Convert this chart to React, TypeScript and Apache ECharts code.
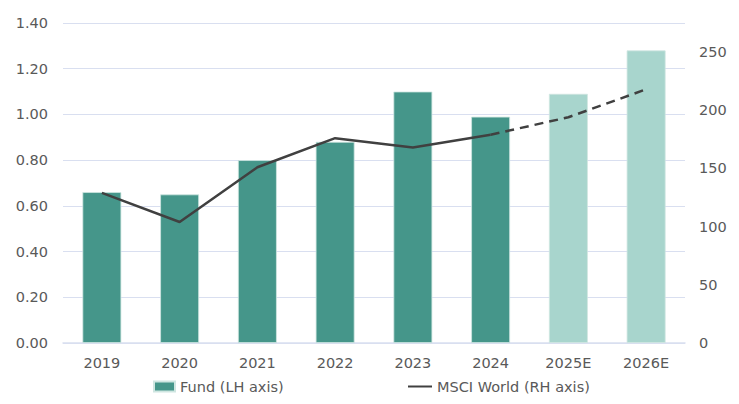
import React, { useEffect, useRef } from "react";
import * as echarts from "echarts";

const categories = ["2019", "2020", "2021", "2022", "2023", "2024", "2025E", "2026E"];
const fundValues = [0.66, 0.65, 0.8, 0.88, 1.1, 0.99, 1.09, 1.28];
const estimateFlags = [false, false, false, false, false, false, true, true];
const msciActual = [129, 104, 151, 176, 168, 179, null, null];
const msciEstimate = [null, null, null, null, null, 179, 194, 218];

const DARK = "#45968A";
const LIGHT = "#A8D5CD";
const LINE = "#404040";
const GRID = "#D9DFF0";
const TEXT = "#595959";
const FONT = "DejaVu Sans";

export default function App() {
  const ref = useRef<HTMLDivElement>(null);
  useEffect(() => {
    if (!ref.current) return;
    const chart = echarts.init(ref.current, null, { renderer: "svg" });
    const legendText = { fontFamily: FONT, fontSize: 14.5, color: TEXT };
    chart.setOption({
      animation: false,
      backgroundColor: "#ffffff",
      textStyle: { fontFamily: FONT, color: TEXT },
      grid: { left: 63, right: 54, top: 23, bottom: 61, containLabel: false },
      legend: [
        {
          left: 153,
          top: 379,
          padding: 0,
          itemWidth: 21,
          itemHeight: 10,
          textStyle: legendText,
          data: [{ name: "Fund (LH axis)", icon: "rect" }],
        },
        {
          left: 407,
          top: 379,
          padding: 0,
          itemWidth: 24,
          itemHeight: 10,
          textStyle: legendText,
          data: [{ name: "MSCI World (RH axis)", itemStyle: { opacity: 0 } }],
        },
      ],
      xAxis: {
        type: "category",
        data: categories,
        axisLine: { show: true, lineStyle: { color: GRID, width: 1.5 } },
        axisTick: { show: false },
        axisLabel: { fontFamily: FONT, fontSize: 14.5, color: TEXT, margin: 12 },
      },
      yAxis: [
        {
          type: "value",
          min: 0,
          max: 1.4,
          interval: 0.2,
          axisLine: { show: false },
          axisTick: { show: false },
          splitLine: { lineStyle: { color: GRID, width: 1.2 } },
          axisLabel: {
            fontFamily: FONT,
            fontSize: 14.5,
            color: TEXT,
            margin: 15,
            formatter: (v: number) => v.toFixed(2),
          },
        },
        {
          type: "value",
          min: 0,
          max: 275,
          interval: 50,
          position: "right",
          axisLine: { show: false },
          axisTick: { show: false },
          splitLine: { show: false },
          axisLabel: {
            fontFamily: FONT,
            fontSize: 14.5,
            color: TEXT,
            margin: 14,
            showMaxLabel: false,
          },
        },
      ],
      series: [
        {
          name: "Fund (LH axis)",
          type: "bar",
          yAxisIndex: 0,
          barWidth: "50%",
          itemStyle: { color: DARK, borderColor: "#CFE6E1", borderWidth: 0.8 },
          data: fundValues.map((v, i) => ({
            value: v,
            itemStyle: { color: estimateFlags[i] ? LIGHT : DARK },
          })),
          z: 2,
        },
        {
          name: "MSCI World (RH axis)",
          type: "line",
          yAxisIndex: 1,
          data: msciActual,
          symbol: "none",
          lineStyle: { color: LINE, width: 2.5 },
          itemStyle: { color: LINE },
          z: 3,
        },
        {
          name: "MSCI World estimate",
          type: "line",
          yAxisIndex: 1,
          data: msciEstimate,
          symbol: "none",
          lineStyle: { color: LINE, width: 2.5, type: [9, 6] },
          itemStyle: { color: LINE },
          z: 3,
        },
      ],
    });
    return () => chart.dispose();
  }, []);
  return (
    <div
      ref={ref}
      style={{ position: "fixed", left: 0, top: 0, width: 739, height: 404 }}
    />
  );
}
